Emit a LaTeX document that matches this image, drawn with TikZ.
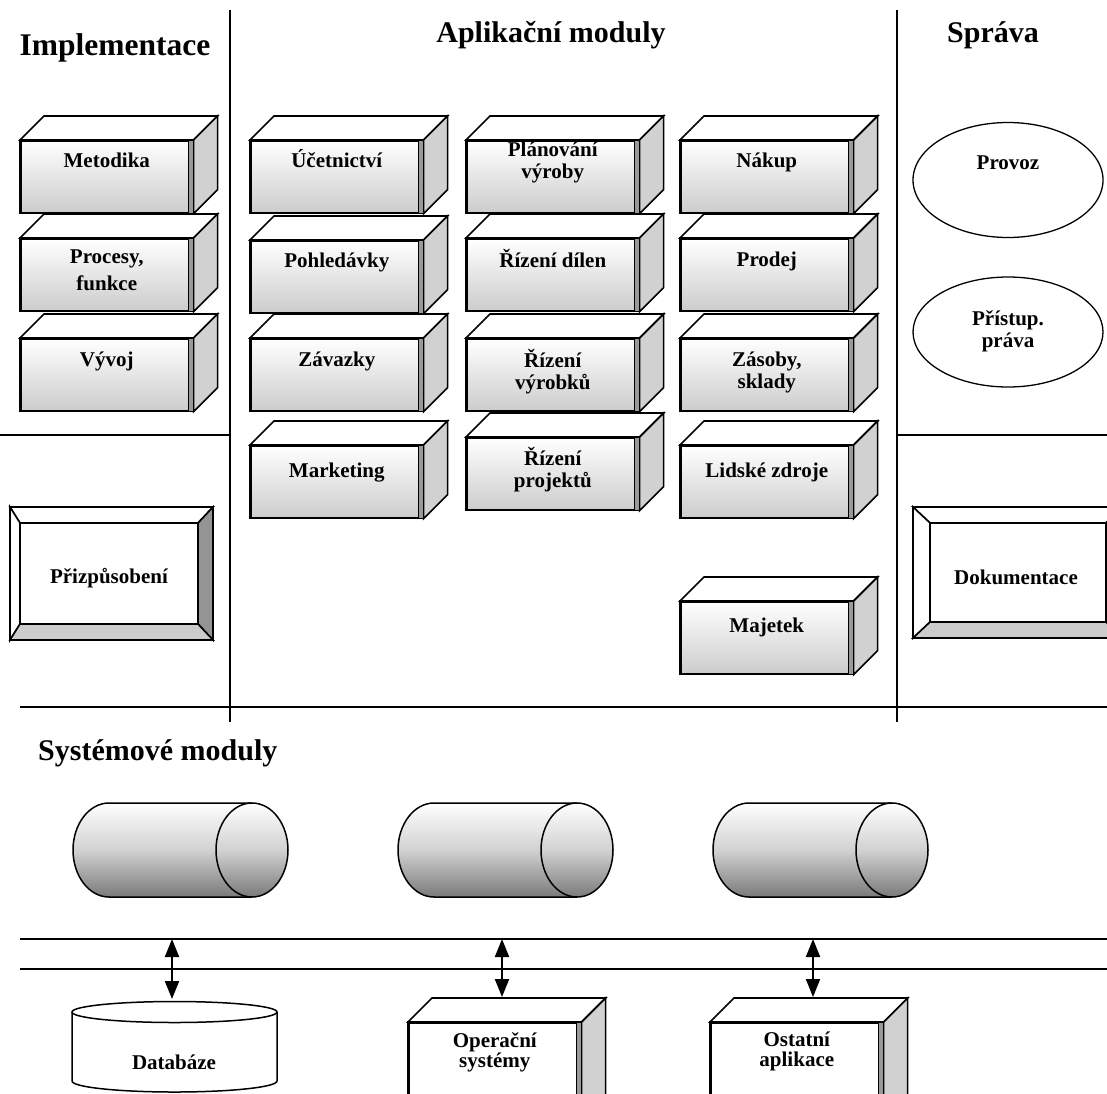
\documentclass[tikz,border=0pt]{standalone}
\usepackage{fontspec}
\setmainfont{Liberation Serif}
\usetikzlibrary{calc,shapes.geometric,arrows.meta}

\tikzset{
  rule/.style={line width=1.6pt},
  edge/.style={draw, line width=1.6pt, line join=miter},
  front/.style={edge, minimum width=172pt, minimum height=72pt, inner sep=0pt,
    top color=white, bottom color=black!20},
  plainfront/.style={edge, minimum width=172pt, minimum height=95pt, inner sep=0pt, fill=white},
  topface/.style={edge, fill=white},
  sideface/.style={edge, fill=black!18},
  strip/.style={draw, line width=1pt, fill=black!40},
  lbl/.style={font=\fontsize{21}{22}\selectfont\bfseries, align=center, inner sep=0pt,
    execute at begin node={\rule{0pt}{19pt}}},
  title/.style={font=\fontsize{30}{32}\selectfont\bfseries, inner sep=0pt},
  oval/.style={ellipse, draw, line width=1.3pt, inner sep=0pt},
  drumfill/.style={top color=white, bottom color=black!52, middle color=black!18},
  drumline/.style={line width=1.5pt},
  busarrow/.style={line width=2pt, {Triangle[length=18pt,width=14pt]}-{Triangle[length=18pt,width=14pt]}},
  bevlight/.style={edge, fill=white},
  bevdark/.style={edge, fill=black!42},
  bevmid/.style={edge, fill=black!20},
}

% 3-D block: name, left x, top y, front style, text baseline below top, text
\newcommand\modbox[6]{%
  \node[#4, anchor=north west] (#1) at (#2,#3) {};
  \path[topface] (#1.north west) -- ++(24,-24) -- ($(#1.north east)+(24,-24)$) -- (#1.north east) -- cycle;
  \path[sideface] (#1.north east) -- ++(24,-24) -- ($(#1.south east)+(24,-24)$) -- (#1.south east) -- cycle;
  \path[strip] ($(#1.north east)+(-5,0)$) rectangle (#1.south east);
  \draw[line width=1.6pt] (#1.north west) rectangle (#1.south east);
  \node[lbl, anchor=north] (#1-txt) at ($(#1.north)+(0,#5-19)$) {#6};
}

% horizontal drum: left x
\newcommand\drum[1]{%
  \path[drumfill] (#1+36,803) arc[start angle=270, end angle=90, x radius=36, y radius=47]
     -- (#1+179,897) arc[start angle=90, end angle=-90, x radius=36, y radius=47] -- cycle;
  \draw[drumline] (#1+179,803) -- (#1+36,803) arc[start angle=270, end angle=90, x radius=36, y radius=47]
     -- (#1+179,897);
  \draw[drumline] (#1+179,850) ellipse[x radius=36, y radius=47];
}

\begin{document}
\begin{tikzpicture}[x=1pt,y=-1pt]
\clip (0,0) rectangle (1107,1093);
\fill[white] (0,0) rectangle (1107,1093);

% section rules
\draw[rule] (230,10) -- (230,722);
\draw[rule] (897,10) -- (897,722);
\draw[rule] (0,435) -- (230,435);
\draw[rule] (897,435) -- (1107,435);
\draw[rule] (20,707) -- (1107,707);
\draw[rule] (20,939) -- (1107,939);
\draw[rule] (20,969) -- (1107,969);

% headings
\node[title, anchor=base, font=\fontsize{31.5}{33}\selectfont\bfseries] (hImpl) at (115,55) {Implementace};
\node[title, anchor=base] (hApp) at (551,42) {Aplikační moduly};
\node[title, anchor=base] (hAdm) at (993,42) {Správa};
\node[title, anchor=base west] (hSys) at (38,760) {Systémové moduly};

% implementation column
\modbox{met}{20}{140}{front}{27}{Metodika}
\modbox{proc}{20}{238}{front}{31}{Procesy,\\[5pt]funkce}
\modbox{vyv}{20}{338}{front}{28}{Vývoj}

% application modules
\modbox{uc}{250}{140}{front}{27}{Účetnictví}
\modbox{poh}{250}{240}{front}{27}{Pohledávky}
\modbox{zav}{250}{338}{front}{28}{Závazky}
\modbox{mkt}{250}{445}{front}{32}{Marketing}

\modbox{plan}{466}{140}{front}{21}{Plánování\\výroby}
\modbox{dil}{466}{238}{front}{29}{Řízení dílen}
\modbox{vyr}{466}{338}{front}{30}{Řízení\\výrobků}
\modbox{prj}{466}{437}{front}{29}{Řízení\\projektů}

\modbox{nak}{680}{140}{front}{27}{Nákup}
\modbox{prod}{680}{238}{front}{28}{Prodej}
\modbox{zas}{680}{338}{front}{33}{Zásoby,\\sklady}
\modbox{lz}{680}{445}{front}{32}{Lidské zdroje}
\modbox{maj}{680}{601}{front}{31}{Majetek}

% administration
\node[oval, minimum width=190pt, minimum height=115pt] (provoz) at (1008,180) {};
\node[lbl, anchor=north] (provoz-txt) at (1008,150) {Provoz};
\node[oval, minimum width=190pt, minimum height=110pt] (prava) at (1008,332) {};
\node[lbl, anchor=north] (prava-txt) at (1008,310) {Přístup.\\práva};

% bevelled frames
\path[bevlight] (10,507) -- (213,507) -- (198,523) -- (20,523) -- cycle;
\path[bevlight] (10,507) -- (20,523) -- (20,624) -- (10,640) -- cycle;
\path[bevdark] (213,507) -- (213,640) -- (198,624) -- (198,523) -- cycle;
\path[bevmid] (10,640) -- (213,640) -- (198,624) -- (20,624) -- cycle;
\node[edge, fill=white, minimum width=178pt, minimum height=101pt, inner sep=0pt] (prz) at (109,573.5) {};
\node[lbl, anchor=north] (prz-txt) at (109,564) {Přizpůsobení};

\path[bevlight] (913,507) -- (1122,507) -- (1106,523) -- (930,523) -- cycle;
\path[bevlight] (913,507) -- (930,523) -- (930,622) -- (913,638) -- cycle;
\path[bevdark] (1122,507) -- (1122,638) -- (1106,622) -- (1106,523) -- cycle;
\path[bevmid] (913,638) -- (1122,638) -- (1106,622) -- (930,622) -- cycle;
\node[edge, fill=white, minimum width=176pt, minimum height=99pt, inner sep=0pt] (dok) at (1018,572.5) {};
\node[lbl, anchor=north] (dok-txt) at (1016,565) {Dokumentace};

% system module drums
\drum{73}
\drum{398}
\drum{713}

% database
\draw[line width=1.5pt, fill=white] (72,1012) -- (72,1081) arc[start angle=180, end angle=0, x radius=102.5, y radius=11] -- (277,1012);
\draw[line width=1.5pt, fill=white] (174.5,1012) ellipse[x radius=102.5, y radius=10.5];
\node[lbl, anchor=north] (db) at (174,1050) {Databáze};
\coordinate (dbtop) at (172,999);

% lower blocks
\modbox{os}{408}{1022}{plainfront}{29}{Operační\\[-2pt]systémy}
\modbox{ost}{710}{1022}{plainfront}{29}{Ostatní\\[-2pt]aplikace}

% bus connections
\coordinate (bus1) at (172,939);
\coordinate (bus2) at (502,939);
\coordinate (bus3) at (813,939);
\draw[busarrow] (bus1) -- (dbtop);
\draw[busarrow] (bus2) -- ($(os.north -| bus2)+(0,-25)$);
\draw[busarrow] (bus3) -- ($(ost.north -| bus3)+(0,-25)$);
\end{tikzpicture}
\end{document}
